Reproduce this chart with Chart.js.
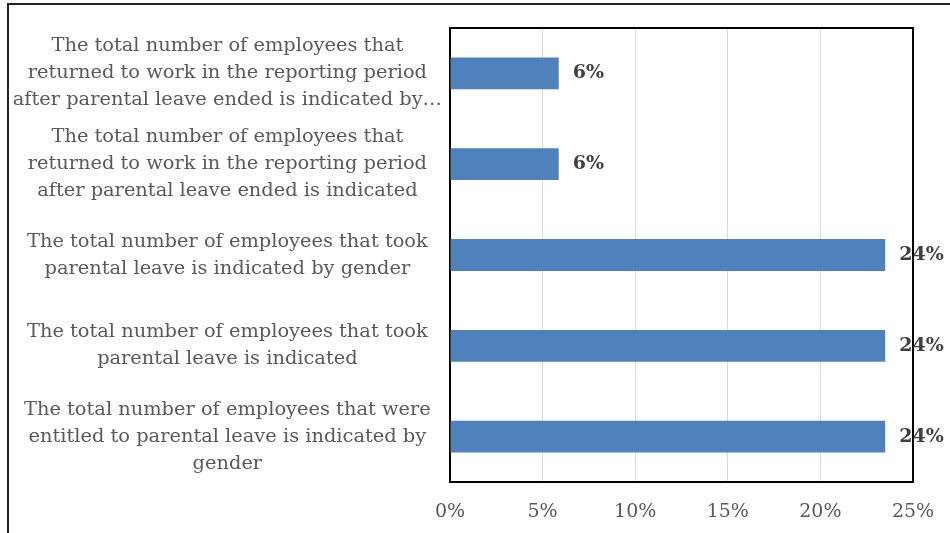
<!DOCTYPE html>
<html>
<head>
<meta charset="utf-8">
<script src="https://cdn.jsdelivr.net/npm/chart.js@4.4.1/dist/chart.umd.min.js"></script>
<style>
  body { margin: 0; background: #fff; }
  #frame { position: absolute; left: 7px; top: 3px; width: 1000px; height: 600px; border: 2px solid #222; box-sizing: border-box; }
  #c { position: absolute; left: 0; top: 0; }
</style>
</head>
<body>
<div id="frame"></div>
<canvas id="c" width="950" height="533"></canvas>
<script>
const categories = [
  ["The total number of employees that", "returned to work in the reporting period", "after parental leave ended is indicated by\u2026"],
  ["The total number of employees that", "returned to work in the reporting period", "after parental leave ended is indicated"],
  ["The total number of employees that took", "parental leave is indicated by gender"],
  ["The total number of employees that took", "parental leave is indicated"],
  ["The total number of employees that were", "entitled to parental leave is indicated by", "gender"],
];
const shares = [0.0587, 0.0587, 0.235, 0.235, 0.235];
const shareLabels = ["6%", "6%", "24%", "24%", "24%"];
const xTicks = [0, 0.05, 0.1, 0.15, 0.2, 0.25];

const SERIF = "'DejaVu Serif', 'Liberation Serif', serif";

// value labels right of each bar
const barLabels = {
  id: "barLabels",
  afterDatasetsDraw(chart) {
    const ctx = chart.ctx;
    const meta = chart.getDatasetMeta(0);
    ctx.save();
    ctx.font = "bold 19px " + SERIF;
    ctx.fillStyle = "#404040";
    ctx.textAlign = "left";
    ctx.textBaseline = "middle";
    meta.data.forEach((bar, i) => {
      ctx.fillText(shareLabels[i], bar.x + 14, bar.y);
    });
    ctx.restore();
  },
};

// black box round the plot area
const plotBox = {
  id: "plotBox",
  beforeDatasetsDraw(chart) {
    const a = chart.chartArea;
    const ctx = chart.ctx;
    ctx.save();
    ctx.strokeStyle = "#000";
    ctx.lineWidth = 2;
    ctx.strokeRect(a.left, a.top, a.right - a.left, a.bottom - a.top);
    ctx.restore();
  },
};

new Chart(document.getElementById("c"), {
  type: "bar",
  data: {
    labels: categories,
    datasets: [{
      data: shares,
      backgroundColor: "#4f81bd",
      borderWidth: 0,
      barPercentage: 1,
      categoryPercentage: 0.35,
    }],
  },
  options: {
    indexAxis: "y",
    responsive: false,
    animation: false,
    layout: { padding: { left: 8, right: 37, top: 28, bottom: 0 } },
    plugins: { legend: { display: false }, tooltip: { enabled: false } },
    scales: {
      x: {
        min: 0,
        max: 0.25,
        afterBuildTicks: (s) => { s.ticks = xTicks.map((v) => ({ value: v })); },
        afterFit: (s) => { s.height = 51; s.paddingLeft = 0; s.paddingRight = 0; },
        grid: { color: "#d9d9d9", lineWidth: 1, drawTicks: false },
        border: { display: false },
        ticks: {
          padding: 19,
          color: "#595959",
          font: { family: SERIF, size: 19 },
          callback: (v) => Math.round(v * 100) + "%",
        },
      },
      y: {
        afterFit: (s) => { s.width = 442; s.paddingTop = 0; s.paddingBottom = 0; },
        grid: { display: false, drawTicks: false },
        border: { display: false },
        ticks: {
          crossAlign: "center",
          padding: 8,
          color: "#595959",
          font: { family: SERIF, size: 19.4, lineHeight: 1.39 },
        },
      },
    },
  },
  plugins: [plotBox, barLabels],
});
</script>
</body>
</html>
